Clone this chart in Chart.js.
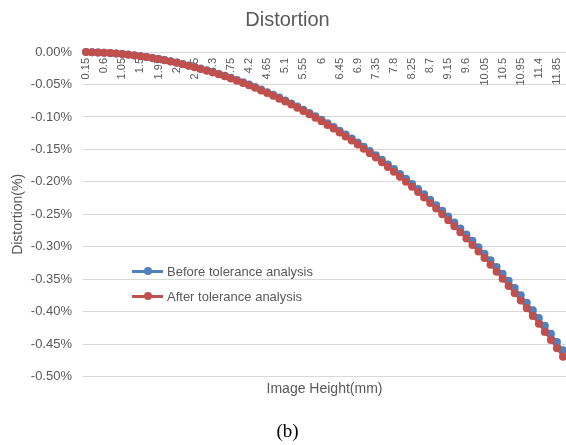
<!DOCTYPE html>
<html>
<head>
<meta charset="utf-8">
<script src="https://cdn.jsdelivr.net/npm/chart.js@4/dist/chart.umd.min.js"></script>
<style>
  html, body { margin: 0; padding: 0; background: #ffffff; }
  #wrap { position: relative; width: 566px; height: 445px; overflow: hidden; }
  #c { position: absolute; left: 0; top: 0; }
  #legend { position: absolute; left: 132px; top: 262px; font-family: 'Liberation Sans', Arial, sans-serif; font-size: 13px; color: #595959; }
  .row { position: relative; height: 25px; line-height: 19px; white-space: nowrap; }
  .sym { position: absolute; left: 0; top: 8px; width: 31px; height: 3px; }
  .dot { position: absolute; left: 12px; top: -3px; width: 8px; height: 8px; border-radius: 50%; }
  .txt { position: absolute; left: 35px; top: 0; }
</style>
</head>
<body>
<div id="wrap">
  <canvas id="c" width="566" height="445"></canvas>
  <div id="legend"></div>
</div>
<script>
const chartTitle = 'Distortion';
const xTitle = 'Image Height(mm)';
const yTitle = 'Distortion(%)';
const caption = '(b)';
const seriesNames = ['Before tolerance analysis', 'After tolerance analysis'];
const seriesColors = ['#4F81BD', '#C0504D'];

const imageHeight = [
  '0.15','0.3','0.45','0.6','0.75','0.9','1.05','1.2','1.35','1.5',
  '1.65','1.8','1.95','2.1','2.25','2.4','2.55','2.7','2.85','3',
  '3.15','3.3','3.45','3.6','3.75','3.9','4.05','4.2','4.35','4.5',
  '4.65','4.8','4.95','5.1','5.25','5.4','5.55','5.7','5.85','6',
  '6.15','6.3','6.45','6.6','6.75','6.9','7.05','7.2','7.35','7.5',
  '7.65','7.8','7.95','8.1','8.25','8.4','8.55','8.7','8.85','9',
  '9.15','9.3','9.45','9.6','9.75','9.9','10.05','10.2','10.35','10.5',
  '10.65','10.8','10.95','11.1','11.25','11.4','11.55','11.7','11.85','12'
];

const beforeTol = [
  -0.0001,-0.0003,-0.0006,-0.0010,-0.0016,-0.0023,-0.0031,-0.0040,-0.0051,-0.0063,
  -0.0076,-0.0091,-0.0107,-0.0124,-0.0142,-0.0162,-0.0183,-0.0206,-0.0229,-0.0254,
  -0.0280,-0.0308,-0.0337,-0.0367,-0.0399,-0.0432,-0.0467,-0.0502,-0.0540,-0.0578,
  -0.0618,-0.0659,-0.0702,-0.0747,-0.0792,-0.0839,-0.0888,-0.0938,-0.0990,-0.1043,
  -0.1098,-0.1154,-0.1212,-0.1271,-0.1332,-0.1394,-0.1458,-0.1524,-0.1591,-0.1660,
  -0.1731,-0.1803,-0.1878,-0.1953,-0.2031,-0.2110,-0.2191,-0.2274,-0.2359,-0.2445,
  -0.2533,-0.2624,-0.2716,-0.2810,-0.2906,-0.3004,-0.3104,-0.3205,-0.3309,-0.3415,
  -0.3523,-0.3633,-0.3745,-0.3860,-0.3976,-0.4095,-0.4216,-0.4339,-0.4464,-0.4592
];

const afterTol = [
  -0.0001,-0.0003,-0.0006,-0.0010,-0.0016,-0.0023,-0.0032,-0.0041,-0.0052,-0.0065,
  -0.0078,-0.0093,-0.0109,-0.0127,-0.0146,-0.0166,-0.0187,-0.0210,-0.0234,-0.0260,
  -0.0287,-0.0315,-0.0344,-0.0375,-0.0408,-0.0441,-0.0477,-0.0513,-0.0551,-0.0591,
  -0.0632,-0.0674,-0.0718,-0.0763,-0.0810,-0.0858,-0.0908,-0.0959,-0.1012,-0.1066,
  -0.1122,-0.1179,-0.1238,-0.1299,-0.1361,-0.1425,-0.1490,-0.1558,-0.1626,-0.1697,
  -0.1769,-0.1843,-0.1919,-0.1996,-0.2076,-0.2156,-0.2239,-0.2324,-0.2411,-0.2499,
  -0.2589,-0.2682,-0.2776,-0.2872,-0.2970,-0.3070,-0.3172,-0.3276,-0.3382,-0.3490,
  -0.3601,-0.3713,-0.3827,-0.3945,-0.4063,-0.4185,-0.4309,-0.4434,-0.4562,-0.4693
];

const yMin = -0.5, yMax = 0, yStep = 0.05;
const labelEvery = 3;

Chart.defaults.font.family = "'Liberation Sans', Arial, sans-serif";
Chart.defaults.color = '#595959';

const grey = '#595959';
const noPad = s => { s.paddingLeft = 0; s.paddingRight = 0; s.paddingTop = 0; s.paddingBottom = 0; };

new Chart(document.getElementById('c'), {
  type: 'line',
  data: {
    labels: imageHeight,
    datasets: [
      { label: seriesNames[0], data: beforeTol, borderColor: seriesColors[0], backgroundColor: seriesColors[0],
        borderWidth: 2.25, pointRadius: 4, pointBorderWidth: 0, pointBackgroundColor: seriesColors[0],
        tension: 0, clip: false, order: 1 },
      { label: seriesNames[1], data: afterTol, borderColor: seriesColors[1], backgroundColor: seriesColors[1],
        borderWidth: 2.25, pointRadius: 4, pointBorderWidth: 0, pointBackgroundColor: seriesColors[1],
        tension: 0, clip: false, order: 0 }
    ]
  },
  options: {
    responsive: false,
    animation: false,
    devicePixelRatio: 1,
    events: [],
    layout: { autoPadding: false, padding: { left: 9, right: 0, top: 0, bottom: 0 } },
    plugins: {
      legend: { display: false },
      tooltip: { enabled: false },
      title: { display: true, text: chartTitle, color: grey,
        font: { size: 20, weight: 'normal' }, padding: { top: 8, bottom: 20 } },
      subtitle: { display: true, text: caption, position: 'bottom', color: '#000000',
        font: { family: "'Liberation Serif', 'Times New Roman', serif", size: 19, weight: 'normal' },
        padding: { top: 19, bottom: 1.6 } }
    },
    scales: {
      x: {
        type: 'category',
        position: { y: 0 },
        offset: true,
        z: 1,
        grid: { display: false, drawTicks: false },
        border: { display: false },
        ticks: {
          autoSkip: false, minRotation: 90, maxRotation: 90, padding: 6,
          color: grey, font: { size: 11 },
          callback: function (v, i) { return i % labelEvery === 0 ? this.getLabelForValue(v) : ''; }
        },
        afterFit: noPad
      },
      x2: {
        type: 'category',
        position: 'bottom',
        offset: true,
        grid: { display: false, drawTicks: false },
        border: { display: false },
        ticks: { display: false },
        title: { display: true, text: xTitle, color: grey, font: { size: 14 }, padding: { top: 4, bottom: 4 } },
        afterFit: noPad
      },
      y: {
        min: yMin, max: yMax,
        grid: { color: '#d9d9d9', lineWidth: 1, drawTicks: false },
        border: { display: false },
        ticks: { stepSize: yStep, padding: 11, color: grey, font: { size: 13 },
          callback: v => (Math.abs(v) < 1e-9 ? 0 : v).toFixed(2) + '%' },
        title: { display: true, text: yTitle, color: grey, font: { size: 14 }, padding: { top: 1, bottom: 0 } },
        afterFit: s => { s.width = 74; s.paddingTop = 0; s.paddingBottom = 0; }
      }
    }
  }
});

// legend overlay built from the series names/colours
const lg = document.getElementById('legend');
seriesNames.forEach((name, i) => {
  const row = document.createElement('div'); row.className = 'row';
  const sym = document.createElement('div'); sym.className = 'sym'; sym.style.background = seriesColors[i];
  const dot = document.createElement('div'); dot.className = 'dot'; dot.style.background = seriesColors[i];
  sym.appendChild(dot);
  const txt = document.createElement('span'); txt.className = 'txt'; txt.textContent = name;
  row.appendChild(sym); row.appendChild(txt); lg.appendChild(row);
});
</script>
</body>
</html>
